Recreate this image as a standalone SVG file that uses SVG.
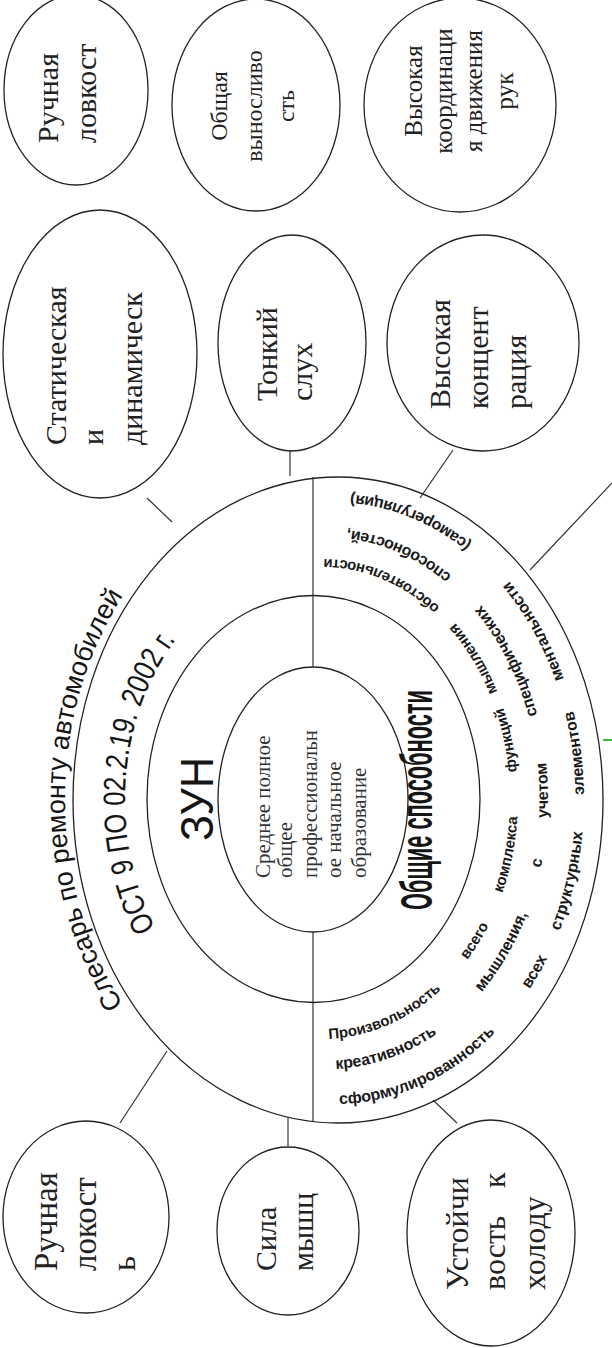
<svg xmlns="http://www.w3.org/2000/svg" width="612" height="1348" viewBox="0 0 612 1348">
<style>
.main{fill:none;stroke:#222;stroke-width:1.3}
.node ellipse{fill:#fff;stroke:#222;stroke-width:1.3}
.conn line{stroke:#333;stroke-width:1.2}
.lbl{font-family:"Liberation Serif","Times New Roman",serif;fill:#222}
.sans{font-family:"Liberation Sans",Arial,sans-serif;fill:#151515}
.ring{font-family:"Liberation Sans",Arial,sans-serif;font-weight:bold;fill:#1a1a1a}
.mid{font-family:"Liberation Serif","Times New Roman",serif;fill:#333;font-size:21px}
</style>
<defs>
<path id="arcTitle" d="M 217,338 A 331,273 0 0 1 879,338"/>
<path id="arcOst" d="M 309,321 A 239,196 0 0 1 787,321"/>
<path id="arcA" d="M 309,322 A 240,196 0 0 0 789,322"/>
<path id="arcB" d="M 279,328 A 270,220 0 0 0 819,328"/>
<path id="arcC" d="M 244,335 A 305,249 0 0 0 854,335"/>
</defs>
<rect width="612" height="1348" fill="#fff"/>
<g transform="translate(0,1348) rotate(-90)">
  <g id="connectors" class="conn">
    <line x1="226" y1="313" x2="416" y2="313"/>
    <line x1="681" y1="313" x2="871" y2="313"/>
    <line x1="850" y1="147" x2="826" y2="172"/>
    <line x1="898" y1="290" x2="872" y2="290"/>
    <line x1="850" y1="420" x2="898" y2="453"/>
    <line x1="778" y1="530" x2="865" y2="612"/>
    <line x1="225" y1="120" x2="297" y2="167"/>
    <line x1="230" y1="288" x2="202" y2="288"/>
    <line x1="248" y1="433" x2="225" y2="457"/>
    <line x1="608" y1="603" x2="608" y2="612" style="stroke:#3cb83c;stroke-width:2"/>
  </g>
  <g id="node-main">
    <ellipse class="main" cx="548" cy="338" rx="323" ry="265"/>
    <ellipse class="main" cx="549" cy="313.5" rx="203.5" ry="166.5"/>
    <ellipse class="main" cx="548.5" cy="313" rx="132.5" ry="95"/>
    <text class="sans" font-size="27"><textPath href="#arcTitle" startOffset="50%" text-anchor="middle">Слесарь по ремонту автомобилей</textPath></text>
    <text class="sans" font-size="31"><textPath href="#arcOst" startOffset="52.8%" text-anchor="middle" textLength="304" lengthAdjust="spacingAndGlyphs">ОСТ 9 ПО 02.2.19. 2002 г.</textPath></text>
    <text class="sans" x="549" y="213" font-size="46" text-anchor="middle" textLength="84" lengthAdjust="spacingAndGlyphs">ЗУН</text>
    <text class="mid" x="470" y="270">Среднее полное</text>
    <text class="mid" x="470" y="292">общее</text>
    <text class="mid" x="470" y="317" fill="#4a2a55">профессиональн</text>
    <text class="mid" x="470" y="341">ое начальное</text>
    <text class="mid" x="470" y="366" fill="#4a2a55">образование</text>
    <text class="sans" x="548" y="432" font-size="44" font-weight="bold" text-anchor="middle" textLength="220" lengthAdjust="spacingAndGlyphs" fill="#1c2a1c">Общие способности</text>
    <text class="ring" font-size="15">
      <textPath href="#arcA" startOffset="1%">Произвольность</textPath>
      <textPath href="#arcA" startOffset="25%">всего</textPath>
      <textPath href="#arcA" startOffset="36%">комплекса</textPath>
      <textPath href="#arcA" startOffset="54%">функций</textPath>
      <textPath href="#arcA" startOffset="66%">мышления</textPath>
      <textPath href="#arcA" startOffset="81%">обстоятельности</textPath>
    </text>
    <text class="ring" font-size="16">
      <textPath href="#arcB" startOffset="1%">креативность</textPath>
      <textPath href="#arcB" startOffset="23%">мышления,</textPath>
      <textPath href="#arcB" startOffset="41%">с</textPath>
      <textPath href="#arcB" startOffset="47.5%">учетом</textPath>
      <textPath href="#arcB" startOffset="61%">специфических</textPath>
      <textPath href="#arcB" startOffset="82.5%">способностей,</textPath>
    </text>
    <text class="ring" font-size="16">
      <textPath href="#arcC" startOffset="0.5%">сформулированность</textPath>
      <textPath href="#arcC" startOffset="27%">всех</textPath>
      <textPath href="#arcC" startOffset="34.5%">структурных</textPath>
      <textPath href="#arcC" startOffset="50.5%">элементов</textPath>
      <textPath href="#arcC" startOffset="64%">ментальности</textPath>
      <textPath href="#arcC" startOffset="83%">(саморегуляция)</textPath>
    </text>
  </g>
  <g id="node-ruchnaya-1" class="node">
    <ellipse cx="1258" cy="76" rx="95" ry="72"/>
    <text class="lbl" font-size="30"><tspan x="1205" y="58">Ручная</tspan><tspan x="1205" y="96">ловкост</tspan></text>
  </g>
  <g id="node-vynoslivost" class="node">
    <ellipse cx="1243" cy="256" rx="106" ry="84"/>
    <text class="lbl" font-size="24" text-anchor="middle"><tspan x="1242" y="227">Общая</tspan><tspan x="1242" y="262">выносливо</tspan><tspan x="1242" y="294">сть</tspan></text>
  </g>
  <g id="node-koordinaciya" class="node">
    <ellipse cx="1243" cy="460" rx="107" ry="96"/>
    <text class="lbl" font-size="25" text-anchor="middle"><tspan x="1257" y="422">Высокая</tspan><tspan x="1257" y="452">координаци</tspan><tspan x="1257" y="482">я движения</tspan><tspan x="1257" y="513">рук</tspan></text>
  </g>
  <g id="node-staticheskaya" class="node">
    <ellipse cx="994" cy="100" rx="144" ry="97"/>
    <text class="lbl" font-size="30"><tspan x="903" y="66">Статическая</tspan><tspan x="903" y="103">и</tspan><tspan x="903" y="142">динамическ</tspan></text>
  </g>
  <g id="node-sluh" class="node">
    <ellipse cx="1005" cy="292" rx="108" ry="74"/>
    <text class="lbl" font-size="30"><tspan x="947" y="277">Тонкий</tspan><tspan x="947" y="312">слух</tspan></text>
  </g>
  <g id="node-koncentraciya" class="node">
    <ellipse cx="1005" cy="483" rx="108" ry="96"/>
    <text class="lbl" font-size="30"><tspan x="939" y="450">Высокая</tspan><tspan x="939" y="488">концент</tspan><tspan x="939" y="526">рация</tspan></text>
  </g>
  <g id="node-ruchnaya-2" class="node">
    <ellipse cx="131" cy="86" rx="96" ry="83"/>
    <text class="lbl" font-size="33"><tspan x="77" y="57">Ручная</tspan><tspan x="77" y="96">локост</tspan><tspan x="77" y="135">ь</tspan></text>
  </g>
  <g id="node-sila" class="node">
    <ellipse cx="117" cy="288" rx="84" ry="71"/>
    <text class="lbl" font-size="30"><tspan x="77" y="276">Сила</tspan><tspan x="77" y="313">мышц</tspan></text>
  </g>
  <g id="node-ustoychivost" class="node">
    <ellipse cx="115" cy="491" rx="113" ry="84"/>
    <text class="lbl" font-size="32"><tspan x="58" y="468">Устойчи</tspan><tspan x="58" y="505">вость</tspan><tspan x="160" y="505">к</tspan><tspan x="58" y="545">холоду</tspan></text>
  </g>
</g>
</svg>
